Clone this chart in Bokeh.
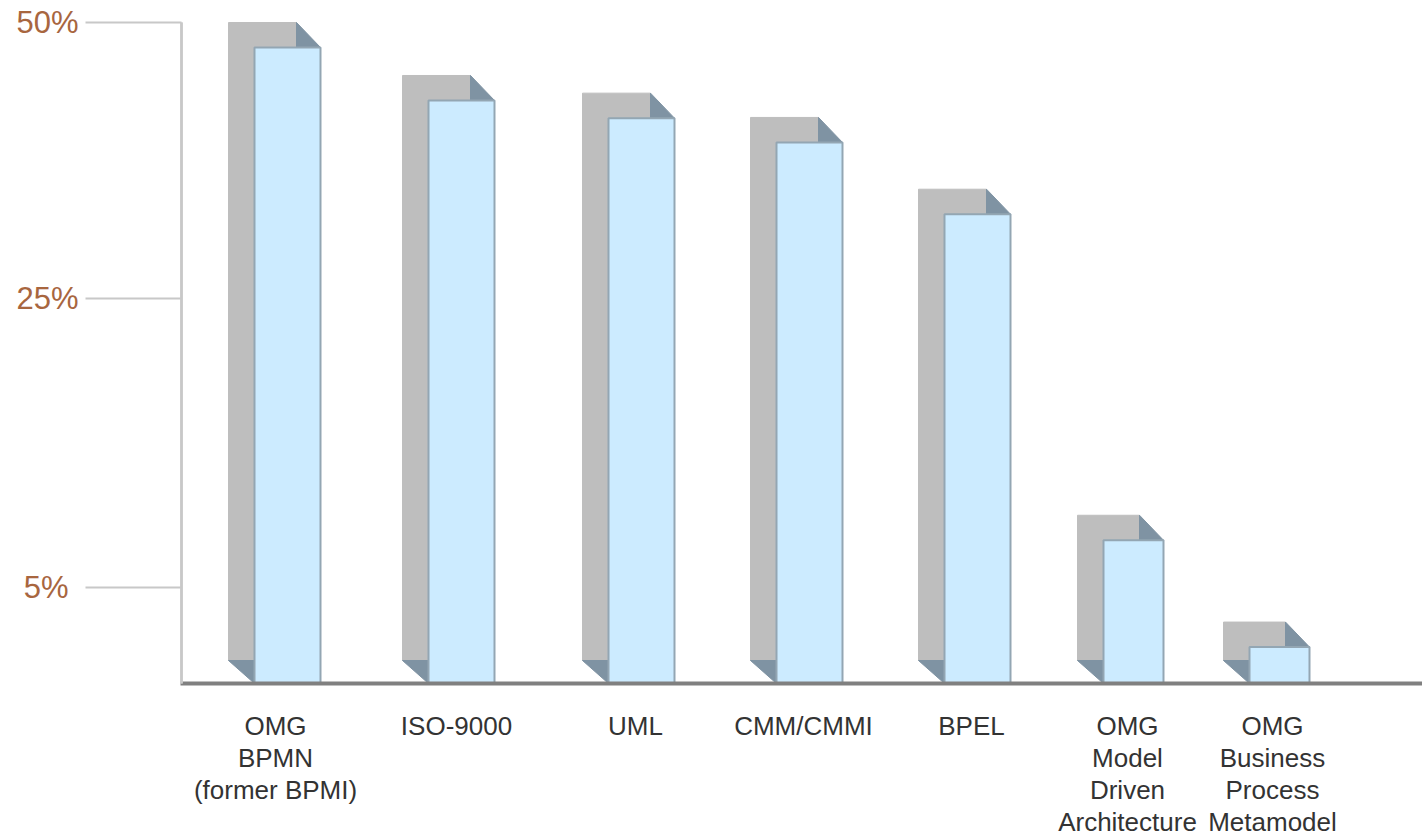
import numpy as np
from bokeh.embed import file_html
from bokeh.models import FixedTicker, LinearAxis, Range1d
from bokeh.plotting import figure
from bokeh.resources import INLINE

# --- data ---
categories = ["OMG\nBPMN\n(former BPMI)", "ISO-9000", "UML", "CMM/CMMI", "BPEL",
              "OMG\nModel\nDriven\nArchitecture", "OMG\nBusiness\nProcess\nMetamodel"]
values = [50.0, 45.2, 43.6, 41.4, 34.9, 10.0, 3.2]
tick_percents = [5, 25, 50]
tick_labels = ["5%", "25%", "50%"]

# --- the picture's value axis is not linear: percent -> axis height ---
axis_percent = [0, 5, 25, 50]
axis_height = [0, 96, 385, 661]

# --- layout ---
bar_left = [254, 428, 608, 776, 944, 1103, 1249]
bar_right = [320, 494, 674, 842, 1010, 1163, 1309]
label_x = [275, 456, 635, 803, 971, 1127, 1272]
DX, DX_SLANT, DY = 26, 24, 25
BACK_FLOOR = 23
AXIS_X = 181


def h(percent):
    return float(np.interp(percent, axis_percent, axis_height))


p = figure(width=1422, height=836, output_backend="svg", toolbar_location=None,
           x_range=Range1d(0, 1422), y_range=Range1d(-153, 683),
           min_border_left=0, min_border_right=0, min_border_top=0, min_border_bottom=0,
           x_axis_location="below", y_axis_location="left")
p.outline_line_color = None
p.grid.visible = False
p.background_fill_color = "white"

for v, l, r in zip(values, bar_left, bar_right):
    top = h(v)
    front = top - DY
    # grey back panel
    p.patch([l - DX, r - DX_SLANT, r - DX_SLANT, l, l, l - DX],
            [top, top, front, front, BACK_FLOOR, BACK_FLOOR],
            fill_color="#BEBEBE", line_color="#BEBEBE", line_width=1)
    # dark slanted parts
    p.patch([r - DX_SLANT, r, r - DX_SLANT], [top, front, front],
            fill_color="#7F93A3", line_color="#7F93A3", line_width=1)
    p.patch([l - DX, l, l], [BACK_FLOOR, 0, BACK_FLOOR],
            fill_color="#7F93A3", line_color="#7F93A3", line_width=1)
    # front face
    p.quad(left=l, right=r, bottom=0, top=front,
           fill_color="#CCEBFF", line_color="#93A6B3", line_width=2)


def style_value_axis(ax, percents, labels, standoff):
    ax.fixed_location = AXIS_X
    ax.ticker = FixedTicker(ticks=[h(t) for t in percents])
    ax.major_label_overrides = {h(t): s for t, s in zip(percents, labels)}
    ax.bounds = (0, h(50))
    ax.axis_line_color = "#C8C8C8"
    ax.axis_line_width = 2.5
    ax.major_tick_line_color = "#C8C8C8"
    ax.major_tick_line_width = 2
    ax.major_tick_out = 96
    ax.major_tick_in = 0
    ax.minor_tick_line_color = None
    ax.major_label_standoff = standoff
    ax.major_label_text_font = "Liberation Sans"
    ax.major_label_text_font_size = "31px"
    ax.major_label_text_color = "#A8663F"


# the two-digit labels and the centred one-digit label need different offsets
style_value_axis(p.yaxis[0], tick_percents[1:], tick_labels[1:], 7)
low_axis = LinearAxis()
style_value_axis(low_axis, tick_percents[:1], tick_labels[:1], 17)
p.add_layout(low_axis, "left")

# category axis
xax = p.xaxis[0]
xax.fixed_location = 0
xax.bounds = (AXIS_X - 1, 1422)
xax.ticker = FixedTicker(ticks=label_x)
xax.major_label_overrides = dict(zip(label_x, categories))
xax.axis_line_color = "#808080"
xax.axis_line_width = 4
xax.major_tick_line_color = None
xax.major_tick_out = 0
xax.major_tick_in = 0
xax.minor_tick_line_color = None
xax.major_label_standoff = 27
xax.major_label_orientation = "horizontal"
xax.major_label_text_font = "Liberation Sans"
xax.major_label_text_font_size = "26px"
xax.major_label_text_color = "#333333"
xax.major_label_text_line_height = 1.07
xax.major_label_text_align = "center"
xax.major_label_text_baseline = "top"

open("out.html", "w").write(file_html(p, INLINE))
